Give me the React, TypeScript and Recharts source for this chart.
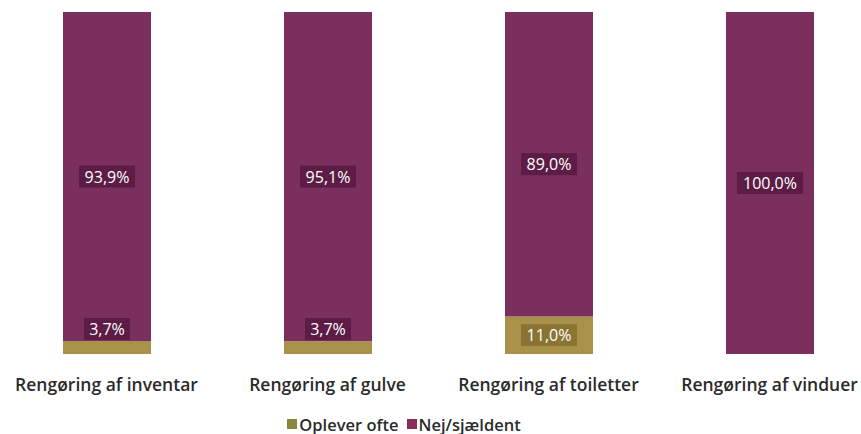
import { Bar, BarChart, LabelList, Legend, XAxis, YAxis } from "recharts";

const categories = [
  "Rengøring af inventar",
  "Rengøring af gulve",
  "Rengøring af toiletter",
  "Rengøring af vinduer",
];
const opleverOfte = [3.7, 3.7, 11.0, 0];
const nejSjaeldent = [93.9, 95.1, 89.0, 100.0];

const data = categories.map((name, i) => ({
  name,
  ofte: opleverOfte[i],
  nej: nejSjaeldent[i],
}));

const PURPLE = "#7b2f5f";
const PURPLE_BOX = "#5c1c45";
const OLIVE = "#a8924a";
const OLIVE_BOX = "#8a7434";
const FONT = "'Open Sans', sans-serif";

const fmt = (v: number) => v.toFixed(1).replace(".", ",") + "%";

function makeLabel(values: number[], boxColor: string) {
  return (props: any) => {
    const { x, y, width, height, index } = props;
    const v = values[index];
    if (!v) return null;
    const text = fmt(v);
    const cx = x + width / 2;
    const outside = height < 30;
    const cy = outside ? y - 12 : y + height / 2;
    const bw = text.length * 10 + 6;
    return (
      <g>
        <rect x={cx - bw / 2} y={cy - 11} width={bw} height={22} fill={outside ? PURPLE_BOX : boxColor} />
        <text
          x={cx}
          y={cy}
          fill="#ffffff"
          textAnchor="middle"
          dominantBaseline="central"
          fontFamily={FONT}
          fontWeight={500}
          fontSize={16}
        >
          {text}
        </text>
      </g>
    );
  };
}

function Tick(props: any) {
  const { x, y, payload } = props;
  return (
    <text
      x={x}
      y={y + 22}
      textAnchor="middle"
      dominantBaseline="central"
      fill="#2b2b2b"
      fontFamily={FONT}
      fontWeight={600}
      fontSize={17.5}
    >
      {payload.value}
    </text>
  );
}

function LegendContent() {
  const items = [
    { label: "Oplever ofte", color: "#86883f" },
    { label: "Nej/sjældent", color: "#8a2d58" },
  ];
  return (
    <div
      style={{
        height: 40,
        display: "flex",
        justifyContent: "center",
        alignItems: "flex-end",
        paddingRight: 68,
        boxSizing: "border-box",
        fontFamily: FONT,
        fontWeight: 600,
        fontSize: 16.5,
        color: "#2b2b2b",
      }}
    >
      {items.map((it) => (
        <div key={it.label} style={{ display: "flex", alignItems: "center", margin: "0 4px", height: 20 }}>
          <span style={{ width: 10, height: 10, background: it.color, display: "inline-block", marginRight: 2 }} />
          <span>{it.label}</span>
        </div>
      ))}
    </div>
  );
}

export default function App() {
  return (
    <div style={{ position: "fixed", left: 0, top: 0, width: 861, height: 434, overflow: "hidden", background: "#fff" }}>
      <div style={{ position: "absolute", left: -4, top: 0 }}>
        <BarChart
          width={884}
          height={434}
          data={data}
          stackOffset="expand"
          margin={{ top: 12, right: 0, bottom: 0, left: 0 }}
        >
          <XAxis dataKey="name" axisLine={false} tickLine={false} height={40} tick={<Tick />} interval={0} />
          <YAxis hide domain={[0, 1]} />
          <Legend verticalAlign="bottom" content={<LegendContent />} />
          <Bar dataKey="ofte" stackId="s" fill={OLIVE} barSize={88} isAnimationActive={false}>
            <LabelList dataKey="ofte" content={makeLabel(opleverOfte, OLIVE_BOX)} />
          </Bar>
          <Bar dataKey="nej" stackId="s" fill={PURPLE} barSize={88} isAnimationActive={false}>
            <LabelList dataKey="nej" content={makeLabel(nejSjaeldent, PURPLE_BOX)} />
          </Bar>
        </BarChart>
      </div>
    </div>
  );
}
